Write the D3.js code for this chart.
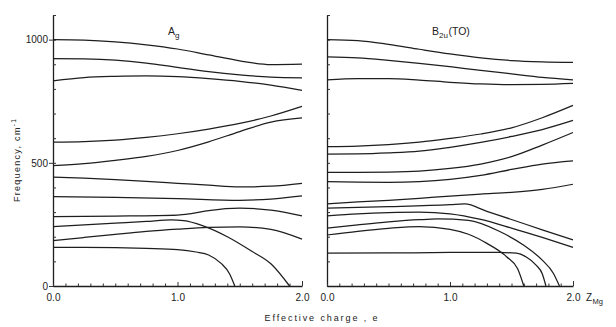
<!DOCTYPE html>
<html>
<head>
<meta charset="utf-8">
<script src="https://cdn.jsdelivr.net/npm/d3@7/dist/d3.min.js"></script>
<style>
  html, body { margin: 0; padding: 0; background: #fff; }
  svg { display: block; font-family: "Liberation Sans", "DejaVu Sans", Arial, sans-serif; }
  .ink { stroke: #1e1e1e; fill: none; }
  text { fill: #222; }
</style>
</head>
<body>
<svg id="chart" width="616" height="327"></svg>
<script>
// Vibrational mode frequencies (cm^-1) versus effective charge Z_Mg (e)

// Ag modes: [charge, frequency]
const agMode1  = [[0,1000],[0.25,998],[0.5,991],[0.75,979],[1.0,962],[1.25,938],[1.5,914],[1.75,899],[2.0,901]];
const agMode2  = [[0,923],[0.25,922],[0.5,917],[0.75,905],[1.0,887],[1.25,870],[1.5,857],[1.75,848],[2.0,845]];
const agMode3  = [[0,833],[0.25,846],[0.5,851],[0.75,853],[1.0,850],[1.25,842],[1.5,831],[1.75,815],[2.0,794]];
const agMode4  = [[0,584],[0.25,586],[0.5,592],[0.75,603],[1.0,618],[1.25,637],[1.5,660],[1.75,690],[2.0,729]];
const agMode5  = [[0,489],[0.25,497],[0.5,510],[0.75,526],[1.0,550],[1.25,585],[1.5,627],[1.75,665],[2.0,682]];
const agMode6  = [[0,442],[0.25,438],[0.5,432],[0.75,425],[1.0,417],[1.25,409],[1.5,402],[1.75,405],[2.0,417]];
const agMode7  = [[0,363],[0.5,360],[1.0,355],[1.5,348],[1.75,353],[2.0,366]];
const agMode8  = [[0,282],[0.5,284],[1.0,288],[1.1,293],[1.25,306],[1.5,316],[1.75,308],[2.0,285]];
const agMode9  = [[0,241],[0.25,248],[0.5,255],[0.75,262],[0.95,268],[1.05,265],[1.2,245],[1.4,200],[1.6,140],[1.75,90],[1.9,0]];
const agMode10 = [[0,184],[0.25,197],[0.5,210],[0.75,222],[1.0,231],[1.25,238],[1.5,240],[1.75,230],[2.0,190]];
const agMode11 = [[0,157],[0.25,157],[0.5,156],[0.75,153],[1.0,148],[1.15,138],[1.25,126],[1.35,92],[1.42,48],[1.46,0]];

// B2u(TO) modes: [charge, frequency]
const b2uMode1  = [[0,1000],[0.25,996],[0.5,981],[0.75,961],[1.0,942],[1.25,926],[1.5,915],[1.75,910],[2.0,908]];
const b2uMode2  = [[0,930],[0.25,926],[0.5,916],[0.75,904],[1.0,890],[1.25,875],[1.5,861],[1.75,847],[2.0,837]];
const b2uMode3  = [[0,837],[0.25,842],[0.5,842],[0.75,836],[1.0,827],[1.25,820],[1.5,817],[1.75,818],[2.0,822]];
const b2uMode4  = [[0,566],[0.25,568],[0.5,574],[0.75,584],[1.0,599],[1.25,617],[1.5,642],[1.75,683],[2.0,733]];
const b2uMode5  = [[0,535],[0.25,536],[0.5,540],[0.75,547],[1.0,563],[1.25,583],[1.5,607],[1.75,635],[2.0,672]];
const b2uMode6  = [[0,461],[0.25,461],[0.5,462],[0.75,466],[1.0,477],[1.25,495],[1.5,525],[1.75,572],[2.0,623]];
const b2uMode7  = [[0,424],[0.25,422],[0.5,421],[0.75,424],[1.0,433],[1.25,449],[1.5,473],[1.75,495],[2.0,508]];
const b2uMode8  = [[0,333],[0.25,341],[0.5,348],[0.75,356],[1.0,365],[1.25,373],[1.5,380],[1.75,392],[2.0,413]];
const b2uMode9  = [[0,316],[0.5,322],[1.0,330],[1.12,333],[1.3,303],[1.5,270],[1.75,228],[2.0,187]];
const b2uMode10 = [[0,285],[0.25,293],[0.5,298],[0.75,300],[1.0,293],[1.25,270],[1.5,235],[1.75,197],[2.0,157]];
const b2uMode11 = [[0,235],[0.25,248],[0.5,260],[0.75,269],[0.9,272],[1.15,266],[1.4,222],[1.6,165],[1.75,105],[1.84,52],[1.89,0]];
const b2uMode12 = [[0,207],[0.25,222],[0.5,234],[0.75,241],[1.0,230],[1.15,210],[1.3,173],[1.46,119],[1.55,70],[1.6,0]];
const b2uMode13 = [[0,133],[0.5,134],[1.0,136],[1.4,136],[1.54,133],[1.62,118],[1.7,85],[1.75,50],[1.78,0]];

const agModes  = [agMode1, agMode2, agMode3, agMode4, agMode5, agMode6, agMode7, agMode8, agMode9, agMode10, agMode11];
const b2uModes = [b2uMode1, b2uMode2, b2uMode3, b2uMode4, b2uMode5, b2uMode6, b2uMode7, b2uMode8, b2uMode9, b2uMode10, b2uMode11, b2uMode12, b2uMode13];

// Axis ticks and labels
const freqMajorTicks = [0, 500, 1000];
const freqMinorTicks = d3.range(0, 1101, 100);
const chargeMinorTicks = d3.range(0, 2.001, 0.1);
const chargeLabelTicks = [0, 1, 2];

const svg = d3.select("#chart");

// Shared frequency scale
const y = d3.scaleLinear().domain([0, 1100]).range([286, 15]);

const panels = [
  { modes: agModes,  x0: 53,  x1: 302, title: "A", sub: "g", after: "", titleX: 168 },
  { modes: b2uModes, x0: 327, x1: 573, title: "B", sub: "2u", after: "(TO)", titleX: 432 }
];

const line = d3.line().curve(d3.curveMonotoneX);

panels.forEach((p, i) => {
  const x = d3.scaleLinear().domain([0, 2]).range([p.x0, p.x1]);
  const g = svg.append("g");

  // frequency axis: minor ticks pointing inward
  const yMinor = g.append("g")
    .attr("transform", `translate(${p.x0},0)`)
    .call(d3.axisRight(y).tickValues(freqMinorTicks).tickSize(3).tickSizeOuter(0).tickFormat(""));
  yMinor.select(".domain").attr("stroke", "#1e1e1e").attr("stroke-width", 1.3);
  yMinor.selectAll(".tick line").attr("stroke", "#333").attr("stroke-width", 1);

  if (i === 0) {
    const yMajor = g.append("g")
      .attr("transform", `translate(${p.x0},0)`)
      .call(d3.axisLeft(y).tickValues(freqMajorTicks).tickSize(4).tickSizeOuter(0).tickPadding(1)
        .tickFormat(d3.format("d")));
    yMajor.select(".domain").remove();
    yMajor.selectAll(".tick line").attr("stroke", "#333").attr("stroke-width", 1);
    yMajor.selectAll(".tick text").attr("font-size", 10).attr("fill", "#222")
      .style("font-family", "'Liberation Sans', Arial, sans-serif");
  }

  // charge axis: small ticks pointing up into the plot
  const xMinor = g.append("g")
    .attr("transform", `translate(0,${y(0)})`)
    .call(d3.axisTop(x).tickValues(chargeMinorTicks).tickSize(2.5).tickSizeOuter(0).tickFormat(""));
  xMinor.select(".domain").attr("stroke", "#1e1e1e").attr("stroke-width", 1.3);
  xMinor.selectAll(".tick line")
    .attr("stroke", "#333").attr("stroke-width", 1)
    .attr("y2", d => (Math.abs(d - 2) < 1e-6 ? -5 : Math.abs(d - 1) < 1e-6 ? -4 : -2.5));

  const xLab = g.append("g")
    .attr("transform", `translate(0,${y(0)})`)
    .call(d3.axisBottom(x).tickValues(chargeLabelTicks).tickSize(0).tickPadding(8)
      .tickFormat(d3.format(".1f")));
  xLab.select(".domain").remove();
  xLab.selectAll(".tick text").attr("font-size", 10).attr("fill", "#222")
    .style("font-family", "'Liberation Sans', Arial, sans-serif");

  // mode curves
  g.selectAll("path.mode")
    .data(p.modes)
    .join("path")
    .attr("class", "mode ink")
    .attr("stroke-width", 1.25)
    .attr("d", d => line(d.map(pt => [x(pt[0]), y(pt[1])])));

  // panel title
  const t = g.append("text").attr("x", p.titleX).attr("y", 35).attr("font-size", 10.5);
  t.append("tspan").text(p.title);
  t.append("tspan").attr("font-size", 8).attr("dy", 3).text(p.sub);
  if (p.after) t.append("tspan").attr("dy", -3).attr("dx", 0.5).text(p.after);
});

// Z_Mg after the right panel's last tick label
const zLab = svg.append("text").attr("x", 586).attr("y", 301).attr("font-size", 10);
zLab.append("tspan").text("Z");
zLab.append("tspan").attr("font-size", 7.5).attr("dy", 2.5).attr("dx", 0.5).text("Mg");

// axis titles
svg.append("text")
  .attr("x", 322).attr("y", 321)
  .attr("text-anchor", "middle")
  .attr("font-size", 9)
  .attr("letter-spacing", 1.9)
  .text("Effective charge , e");

const yt = svg.append("text")
  .attr("transform", "translate(20,160) rotate(-90)")
  .attr("text-anchor", "middle")
  .attr("font-size", 9)
  .attr("letter-spacing", 1.3);
yt.append("tspan").text("Frequency, cm");
yt.append("tspan").attr("font-size", 6.5).attr("dy", -4).text("-1");
</script>
</body>
</html>
